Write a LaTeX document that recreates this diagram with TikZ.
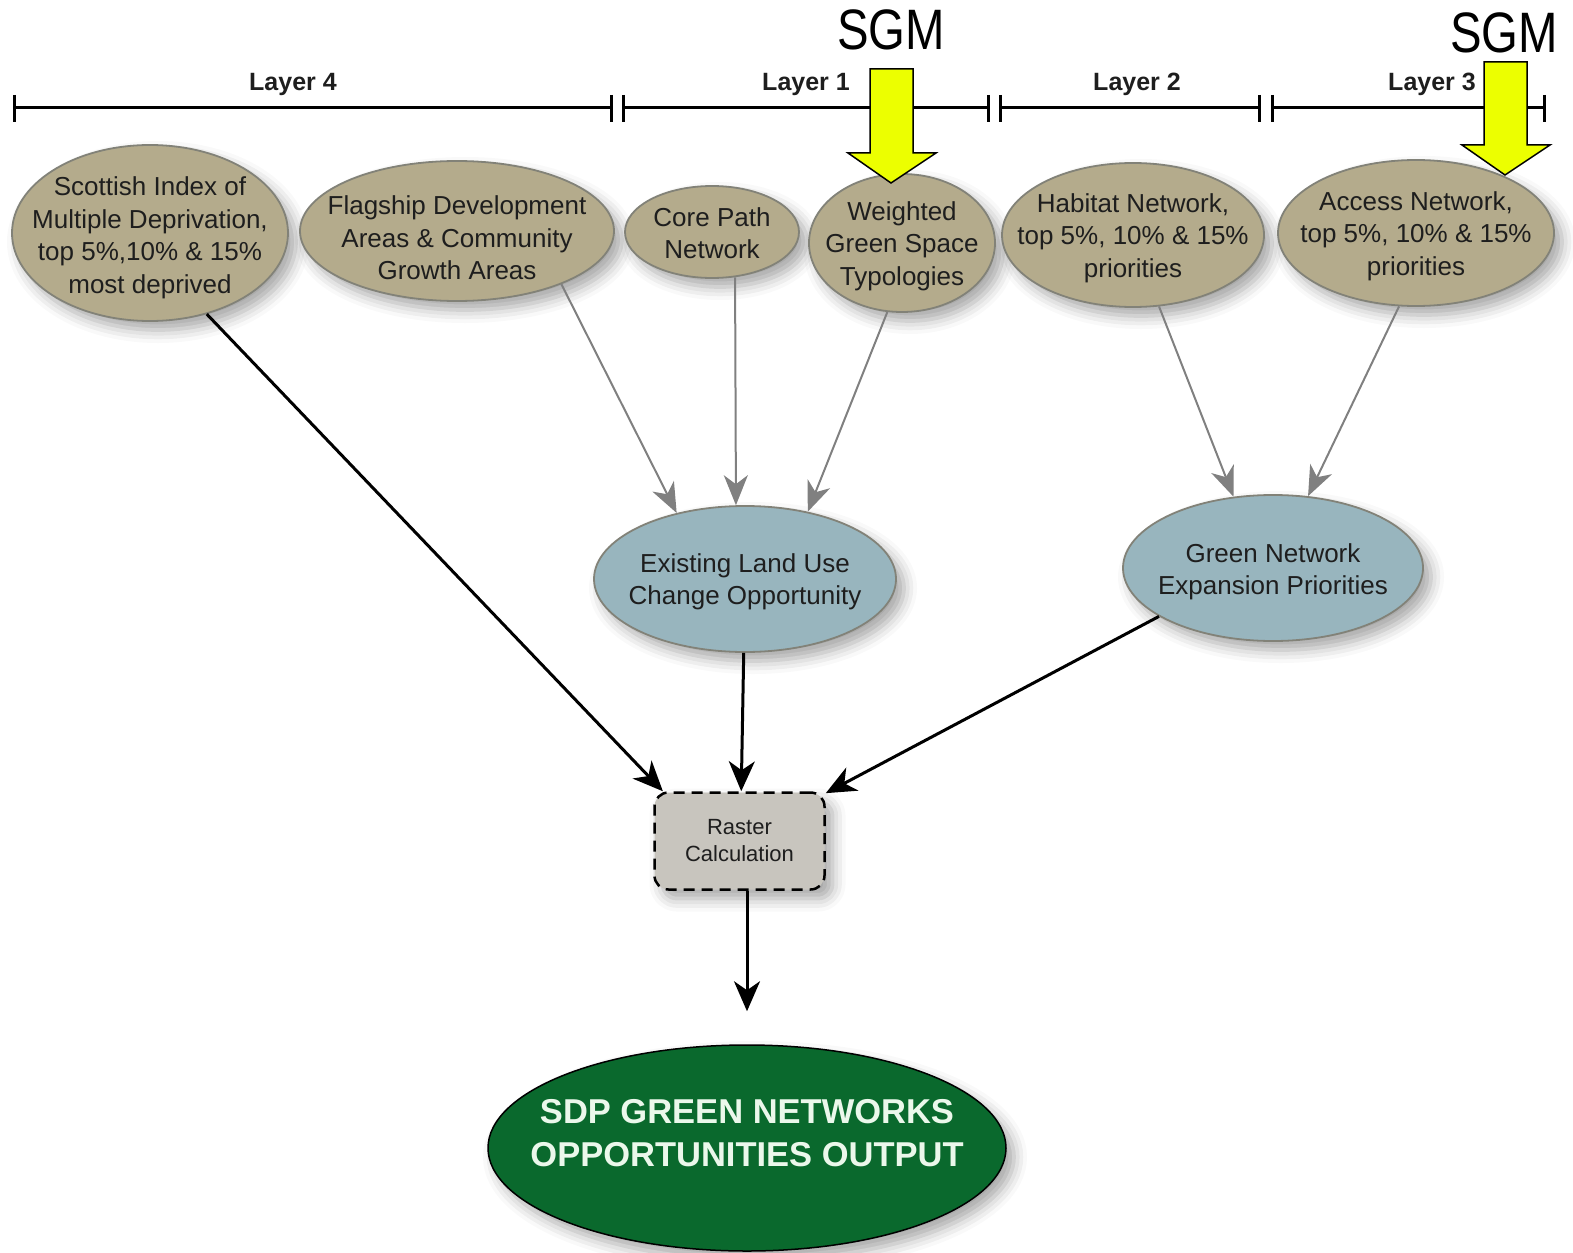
\documentclass[tikz,border=0pt]{standalone}
\usepackage{fontspec}
\setmainfont{Liberation Sans}
\newfontfamily\narrowfont[FakeStretch=0.83]{Liberation Sans}
\usetikzlibrary{arrows.meta,shapes.geometric,shadows.blur}
\definecolor{tan}{RGB}{180,171,140}
\definecolor{bluegray}{RGB}{152,181,190}
\definecolor{outgreen}{RGB}{10,105,45}
\definecolor{rastergray}{RGB}{200,197,190}
\definecolor{sgmyellow}{RGB}{236,255,0}
\definecolor{txt}{RGB}{30,30,30}
\tikzset{
  shad/.style={blur shadow={shadow xshift=8pt,shadow yshift=-9pt,shadow blur radius=13pt,shadow opacity=35}},
  topell/.style={ellipse,draw={rgb,255:red,130;green,130;blue,120},line width=1.8pt,fill=tan,shad,
     inner sep=0pt},
  midell/.style={topell,fill=bluegray},
  elltext/.style={align=center,text=txt,font=\fontsize{26}{32.5}\selectfont,yshift=-3pt},
  grayarr/.style={draw={rgb,255:red,128;green,128;blue,128},line width=2pt,
     -{Stealth[length=30pt,width=24pt,inset=9pt]}},
  blackarr/.style={draw=black,line width=3pt,
     -{Stealth[length=30pt,width=26pt,inset=9pt]}},
  layerlab/.style={font=\bfseries\fontsize{25}{28}\selectfont,text=txt},
  sgmlab/.style={font=\narrowfont\fontsize{57}{60}\selectfont},
  yarrow/.style={fill=sgmyellow,draw=black,line width=1.5pt,line join=miter}
}
\begin{document}
\begin{tikzpicture}[x=1pt,y=-1pt]
\useasboundingbox (0,0) rectangle (1573,1252);
% layer bars
\begin{scope}[line width=3pt]
\draw (14,108) -- (611,108);
\draw (623,108) -- (988,108);
\draw (1000,108) -- (1259,108);
\draw (1272,108) -- (1544,108);
\foreach \x in {14,611,623,988,1000,1259,1272,1544}
  \draw (\x,95) -- (\x,122);
\end{scope}
\node[layerlab] (l4) at (293,84) {Layer 4};
\node[layerlab] (l1) at (806,84) {Layer 1};
\node[layerlab] (l2) at (1137,84) {Layer 2};
\node[layerlab] (l3) at (1432,84) {Layer 3};
% nodes
\node[topell,minimum width=276pt,minimum height=176pt,
  label={[elltext,yshift=-2pt]center:Scottish Index of\\Multiple Deprivation,\\top 5\%,10\% \& 15\%\\most deprived}]
  (scot) at (150,233) {};
\node[topell,minimum width=314pt,minimum height=140pt,
  label={[elltext,yshift=-4pt]center:Flagship Development\\Areas \& Community\\Growth Areas}]
  (flag) at (457,231) {};
\node[topell,minimum width=174pt,minimum height=92pt,
  label={[elltext,yshift=2pt]center:Core Path\\Network}]
  (core) at (712,232) {};
\node[topell,minimum width=186pt,minimum height=138pt,
  label={[elltext]center:Weighted\\Green Space\\Typologies}]
  (wgs) at (902,243) {};
\node[topell,minimum width=262pt,minimum height=144pt,
  label={[elltext]center:Habitat Network,\\top 5\%, 10\% \& 15\%\\priorities}]
  (hab) at (1133,235) {};
\node[topell,minimum width=276pt,minimum height=146pt,
  label={[elltext]center:Access Network,\\top 5\%, 10\% \& 15\%\\priorities}]
  (acc) at (1416,233) {};
\node[midell,minimum width=302pt,minimum height=146pt,
  label={[elltext]center:Existing Land Use\\Change Opportunity}]
  (exist) at (745,579) {};
\node[midell,minimum width=300pt,minimum height=146pt,
  label={[elltext,yshift=-1pt]center:Green Network\\Expansion Priorities}]
  (gnet) at (1273,568) {};
\node[rectangle,rounded corners=14pt,draw=black,line width=2.5pt,dash pattern=on 11pt off 7pt,
  fill=rastergray,shad,minimum width=170pt,minimum height=97pt,align=center,text=txt,
  font=\fontsize{22}{27}\selectfont] (rast) at (739.5,841) {Raster\\Calculation};
\node[ellipse,draw=black,line width=1.5pt,fill=outgreen,shad,minimum width=518pt,minimum height=206pt,
  inner sep=0pt,
  label={[align=center,text={rgb,255:red,235;green,248;blue,235},yshift=15pt,
  font=\bfseries\fontsize{34.5}{43}\selectfont]center:SDP GREEN NETWORKS\\OPPORTUNITIES OUTPUT}]
  (out) at (747,1148) {};
% SGM arrows
\node[sgmlab] (sgm1) at (891,30) {SGM};
\node[sgmlab] (sgm2) at (1504,33) {SGM};
\draw[yarrow] (870,69) -- (913,69) -- (913,153) -- (936,153) -- (891,183) -- (848,153) -- (870,153) -- cycle;
\draw[yarrow] (1484,62) -- (1527,62) -- (1527,145) -- (1550,145) -- (1505,175) -- (1462,145) -- (1484,145) -- cycle;
% connectors
\draw[grayarr] (flag.-27.7) -- (exist.136);
\draw[grayarr] (core.-63.4) -- (exist.97.8);
\draw[grayarr] (wgs.-102) -- (exist.47);
\draw[grayarr] (hab.-70.9) -- (gnet.119);
\draw[grayarr] (acc.-103.3) -- (gnet.64.4);
\draw[blackarr] (scot.-55.4) -- (rast.147.6);
\draw[blackarr] (exist.-91.6) -- (rast.88);
\draw[blackarr] (gnet.-157.8) -- (rast.29);
\draw[blackarr,shorten >=33pt] (rast.south -| out.north) -- (out.north);
\end{tikzpicture}
\end{document}
